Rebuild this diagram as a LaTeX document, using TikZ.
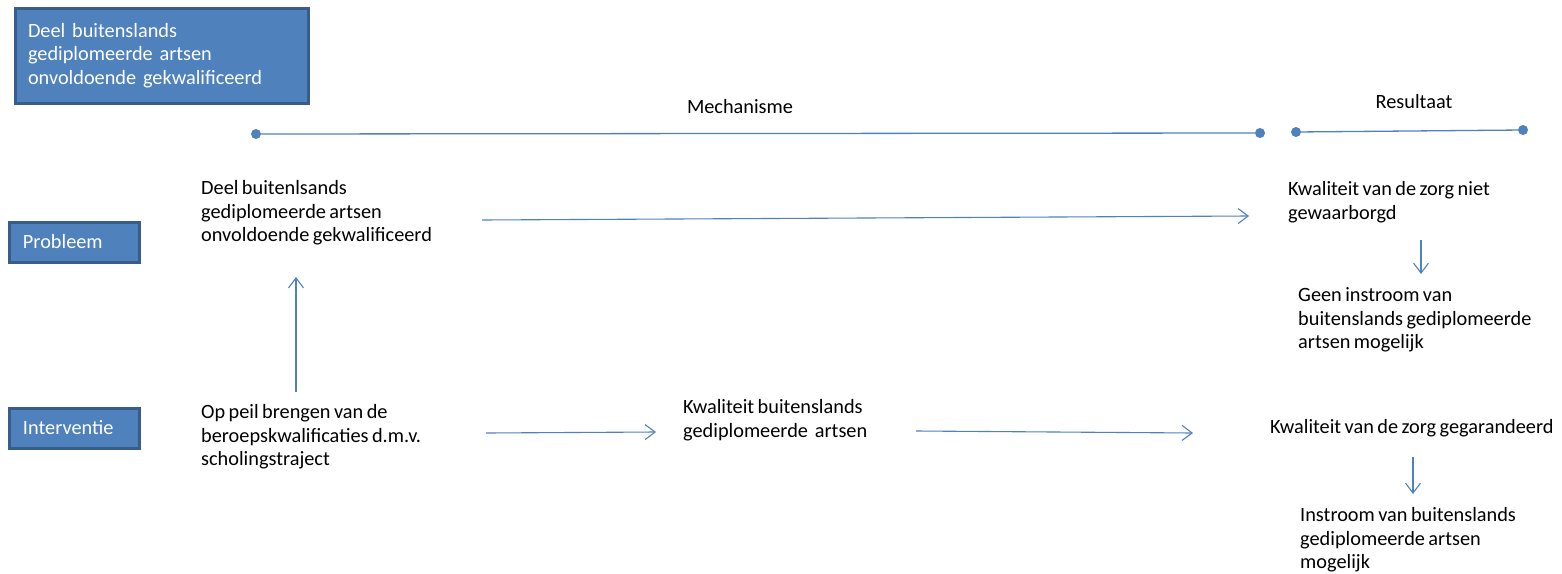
\documentclass[tikz,border=0pt]{standalone}
\usepackage{fontspec}
\setmainfont[WordSpace=0.75]{Carlito}
\usetikzlibrary{positioning, calc, arrows.meta}
\definecolor{boxblue}{HTML}{4F81BD}
\definecolor{boxedge}{HTML}{385D8A}
\tikzset{Arrow/.style={draw=boxblue, line width=1.1pt, -{Straight Barb[length=10pt,width=15pt]}}}

\begin{document}
\begin{tikzpicture}[x=1pt, y=-1pt,
				font=\fontsize{20.3}{23.5}\selectfont,
				tag/.style = {rectangle, draw=boxedge, line width=3pt, fill=boxblue, text=white, align=left, inner sep=0pt},
				stmt/.style = {align=left, inner sep=0pt, anchor=west},
				dot/.style = {circle, fill=boxblue, inner sep=0pt, minimum size=10pt},
				axis/.style = {draw=boxblue, line width=1.3pt},
			]
			\useasboundingbox (0,0) rectangle (1562,573);

			\node[tag, minimum width=293pt, minimum height=95pt, text width=267pt](title) at (161.5,55.5){Deel buitenslands\\gediplomeerde artsen\\onvoldoende gekwalificeerd};
			\node[tag, minimum width=130pt, minimum height=40pt, text width=102pt](prob) at (74,242){Probleem};
			\node[tag, minimum width=130pt, minimum height=40pt, text width=102pt](interv) at (74,428){Interventie};

			\node(mech) at (740,107){Mechanisme};
			\node(res) at (1414,102){Resultaat};
			\node[dot](m1) at (256,134){};
			\node[dot](m2) at (1260,133){};
			\node[dot](r1) at (1296,132){};
			\node[dot](r2) at (1523,130){};
			\draw[axis](m1)--(m2);
			\draw[axis](r1)--(r2);

			\node[stmt](ptext) at (201,213){Deel buitenlsands\\gediplomeerde artsen\\onvoldoende gekwalificeerd};
			\node[stmt](kniet) at (1288,202){Kwaliteit van de zorg niet\\gewaarborgd};
			\node[stmt](geen) at (1298,320){Geen instroom van\\buitenslands gediplomeerde\\artsen mogelijk};
			\node[stmt](optext) at (201,437){Op peil brengen van de\\beroepskwalificaties d.m.v.\\scholingstraject};
			\node[stmt](kbuiten) at (683,420){Kwaliteit buitenslands\\gediplomeerde\ \ artsen};
			\node[stmt](garant) at (1270,428){Kwaliteit van de zorg gegarandeerd};
			\node[stmt](instroom) at (1300,540){Instroom van buitenslands\\gediplomeerde artsen\\mogelijk};

			\draw[Arrow]($(ptext.west)+(281,7)$)--($(kniet.west)+(-39,14)$);
			\draw[Arrow]($(kniet.west)+(133,38)$)--($(geen.west)+(123,-46)$);
			\draw[Arrow]($(optext.west)+(95,-45)$)--($(ptext.west)+(95,64)$);
			\draw[Arrow]($(optext.west)+(285,-4)$)--($(kbuiten.west)+(-27,12)$);
			\draw[Arrow]($(kbuiten.west)+(233,11)$)--($(garant.west)+(-77,5)$);
			\draw[Arrow]($(garant.west)+(143,29)$)--($(instroom.west)+(113,-46)$);
		\end{tikzpicture}
\end{document}
